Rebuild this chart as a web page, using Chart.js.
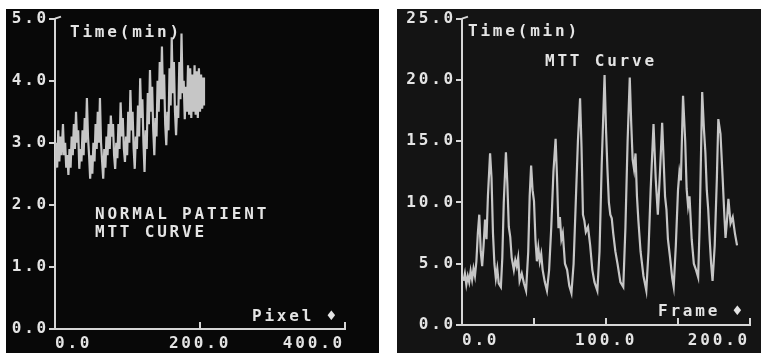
<!DOCTYPE html>
<html>
<head>
<meta charset="utf-8">
<script src="https://cdn.jsdelivr.net/npm/chart.js@4.4.1/dist/chart.umd.min.js"></script>
<style>
  html, body { margin: 0; padding: 0; background: #ffffff; width: 761px; height: 353px; overflow: hidden; }
  .panel { position: absolute; top: 9px; height: 344px; }
  #p1 { left: 6px; width: 373px; background: #080808; }
  #p2 { left: 397px; width: 364px; background: #141414; }
  canvas { display: block; }
</style>
</head>
<body>
<div class="panel" id="p1"><canvas id="c1" width="373" height="344"></canvas></div>
<div class="panel" id="p2"><canvas id="c2" width="364" height="344"></canvas></div>
<script>
// ---------- Left chart: NORMAL PATIENT MTT CURVE ----------
const leftPixel = [0,1.5,3,4.5,6,7.5,9,11,12.5,14,
  15.5,17,18.5,20,21.5,23,24.5,26,27.5,29,
  30.5,32,33.5,35,36.5,38,39.5,41,42.5,44,
  45.5,47,48.5,50,51.5,53,54.5,56,57.5,59,
  60.5,62,63.5,65,66.5,68,69.5,71,72.5,74,
  75.5,77,78.5,80,81.5,83,84.5,86,87.5,89,
  90.5,92,93.5,95,96.5,98,99.5,101,102.5,104,
  105.5,107,108.5,110,111.5,113,114.5,116,117.5,119,
  120.5,122,123.5,125,126.5,128,129.5,131,132.5,134,
  135.5,137,138.5,140,141.5,143,144.5,146,147.5,149,
  150.5,152,153.5,155,156.5,158,159.5,161,162.5,164,
  165.5,167,168.5,170,171.5,173,174.5,176,177.5,179,
  180.5,182,183.5,185,186.5,188,189.5,191,192.5,194,
  195.5,197,198.5,200,201.5,203,204.5,205.5];
const leftTime = [2.55,3.0,2.6,3.2,2.7,3.1,2.8,3.3,2.8,3.0,
  2.6,2.8,2.48,2.9,2.6,3.1,2.8,3.3,2.9,3.5,
  3.0,3.2,2.58,2.9,2.7,3.2,2.8,3.4,3.0,3.72,
  3.1,2.8,2.42,2.8,2.5,3.0,2.7,3.3,2.9,3.5,
  3.0,3.72,3.0,2.7,2.42,2.9,2.6,3.1,2.8,3.3,
  2.9,3.44,3.1,3.3,2.8,2.58,3.0,2.75,3.3,2.9,
  3.65,3.1,3.4,2.9,2.69,3.1,2.8,3.5,3.0,3.85,
  3.2,3.5,2.9,2.58,3.1,2.9,3.6,3.1,4.04,3.4,
  3.7,3.0,2.53,3.2,2.9,3.8,3.3,4.17,3.5,3.9,
  3.2,2.8,3.4,3.1,4.0,3.5,4.3,3.7,4.55,3.7,
  4.1,3.3,2.96,3.5,3.2,4.2,3.6,4.7,3.8,4.3,
  3.5,3.12,3.6,3.4,4.3,3.7,4.76,3.8,4.0,3.38,
  3.9,3.5,4.25,3.45,4.2,3.4,4.1,3.5,4.25,3.45,
  4.15,3.4,4.2,3.5,4.1,3.55,4.05,3.6];
const leftXTicks = [0, 200, 400];
const leftYTicks = [0, 1, 2, 3, 4, 5];

// ---------- Right chart: MTT Curve ----------
const rightFrame = [1,2,3,4,5,6,7,8,9,10,11,12,13,14,15,16,17,18,19.5,20.5,21.5,22.5,23.5,24.5,25.5,27,28,29,30.5,31.5,32.5,33.5,34.5,36,37,38,39,40,41.5,43,44.5,46,47,48,49,50,51,52,53,54,55,56,57.5,59,60.5,62,63.5,65,66,67,68,69,70,71.5,73,74.5,76,77.5,79,80.5,82,83,84,85,86,87.5,89,90.5,92,94,95.5,97,99,100,101,102,103,104,105,106.5,108,110,112,113.5,115,116.5,117.5,118.5,119.5,120.5,121.5,122.5,124,126,128,129.5,131,133,134.5,136,137.5,139,140,141,142,143,144.5,146,147,148.5,150,151,152,153.5,155,156,157,158,159.5,161,162.5,164,165,166.8,168,169,170,171,172,173,174,175.5,177,178,179.5,181,182,183,184,185,186.5,188,189.5,191];
const rightTime  = [3.6,4.2,3.3,4.0,3.5,4.4,3.7,4.6,4.0,5.2,7.5,9.0,6.0,4.8,6.5,8.6,7.0,10.5,14.0,12.0,7.5,5.0,3.8,4.6,3.4,3.1,5.5,10.0,14.1,11.5,8.0,7.2,5.5,4.5,5.3,4.8,5.5,3.6,4.2,3.4,2.8,6.0,10.5,13.0,11.0,10.1,7.0,5.2,6.3,5.2,5.8,4.5,3.5,2.8,4.5,8.0,12.5,15.2,12.0,7.9,8.8,7.0,7.5,5.0,4.5,3.2,2.6,5.0,10.0,15.0,18.5,14.5,9.0,8.5,7.6,8.0,6.5,4.5,3.5,2.8,6.0,13.0,20.4,16.0,12.7,10.0,9.0,8.7,7.5,6.0,5.0,3.5,3.1,8.0,15.0,20.2,16.5,13.5,12.7,14.0,10.5,8.5,6.0,4.0,2.8,6.0,11.0,16.4,12.0,9.0,12.5,16.5,13.5,10.5,9.4,7.0,5.5,3.8,3.1,6.5,11.0,12.5,11.8,18.7,15.0,11.1,9.7,10.5,7.0,5.0,4.5,3.9,8.0,19.0,16.0,14.1,11.0,9.4,7.0,5.0,3.6,6.5,12.0,16.8,15.6,12.0,9.4,7.1,8.5,10.3,8.3,8.8,7.5,6.5];
const rightXTicks = [0, 100, 200];
const rightMinorTicks = [0, 50, 100, 150, 200];
const rightYTicks = [0, 5, 10, 15, 20, 25];

const TEXT = '#e4e4e4';
const LINE = '#c6c6c6';
const AXIS = '#d6d6d6';
const FONT_FAMILY = "'DejaVu Sans Mono', 'Liberation Mono', monospace";
const FONT_SIZE = 16;
const SPACING = '2.8px';

function setSpacing(chart) { chart.ctx.letterSpacing = SPACING; }

function makeChart(canvasId, opts) {
  const pts = opts.xs.map((x, i) => ({ x: x, y: opts.ys[i] }));
  const plugin = {
    id: 'decor_' + canvasId,
    beforeUpdate: setSpacing,
    beforeLayout: setSpacing,
    beforeDraw: setSpacing,
    afterDraw(chart) {
      const ctx = chart.ctx;
      const xs = chart.scales.x, ys = chart.scales.y;
      ctx.save();
      ctx.letterSpacing = SPACING;
      ctx.strokeStyle = AXIS;
      ctx.lineWidth = 2;
      const yb = ys.getPixelForValue(ys.min);
      opts.upTicks.forEach(v => {
        const px = xs.getPixelForValue(v);
        ctx.beginPath();
        ctx.moveTo(px, yb);
        ctx.lineTo(px, yb - 7);
        ctx.stroke();
      });
      const yt = ys.getPixelForValue(ys.max);
      const x0 = xs.getPixelForValue(xs.min);
      ctx.beginPath();
      ctx.moveTo(x0, yt);
      ctx.lineTo(x0 + 6, yt - 2);
      ctx.stroke();
      ctx.fillStyle = TEXT;
      ctx.font = 'bold ' + FONT_SIZE + 'px ' + FONT_FAMILY;
      ctx.textBaseline = 'middle';
      ctx.textAlign = 'left';
      opts.texts.forEach(t => ctx.fillText(t[0], t[1], t[2]));
      ctx.restore();
    }
  };
  return new Chart(document.getElementById(canvasId), {
    type: 'line',
    data: {
      datasets: [{
        data: pts,
        borderColor: LINE,
        borderWidth: 2.2,
        pointRadius: 0,
        tension: 0,
        fill: false
      }]
    },
    options: {
      responsive: false,
      animation: false,
      events: [],
      layout: { padding: opts.padding },
      plugins: { legend: { display: false }, tooltip: { enabled: false } },
      scales: {
        x: {
          type: 'linear',
          min: opts.xMin, max: opts.xMax,
          afterBuildTicks(s) { s.ticks = opts.xTicks.map(v => ({ value: v })); },
          afterFit(s) { s.height = opts.xHeight; },
          grid: { display: true, drawOnChartArea: false, drawTicks: false, color: AXIS },
          border: { display: true, color: AXIS, width: 2 },
          ticks: {
            color: TEXT, align: 'inner', padding: opts.xPad, maxRotation: 0, autoSkip: false,
            font: { family: FONT_FAMILY, size: FONT_SIZE, weight: 'bold' },
            callback: v => Number(v).toFixed(1)
          }
        },
        y: {
          type: 'linear',
          min: opts.yMin, max: opts.yMax,
          afterBuildTicks(s) { s.ticks = opts.yTicks.map(v => ({ value: v })); },
          afterFit(s) { s.width = opts.yWidth; },
          grid: { display: true, drawOnChartArea: false, drawTicks: true, tickLength: 6, color: AXIS, lineWidth: 2 },
          border: { display: true, color: AXIS, width: 2 },
          ticks: {
            color: TEXT, padding: 0, autoSkip: false,
            font: { family: FONT_FAMILY, size: FONT_SIZE, weight: 'bold' },
            callback: v => Number(v).toFixed(1)
          }
        }
      }
    },
    plugins: [plugin]
  });
}

makeChart('c1', {
  xs: leftPixel, ys: leftTime,
  xMin: 0, xMax: 400, yMin: 0, yMax: 5,
  xTicks: leftXTicks, yTicks: leftYTicks,
  upTicks: [200, 400],
  padding: { top: 6, right: 34, left: 0, bottom: 0 },
  yWidth: 49, xHeight: 24, xPad: 5,
  texts: [
    ['Time(min)', 64, 24],
    ['NORMAL PATIENT', 89, 206],
    ['MTT CURVE', 89, 224],
    ['Pixel \u2666', 246, 308]
  ]
});

makeChart('c2', {
  xs: rightFrame, ys: rightTime,
  xMin: 0, xMax: 200, yMin: 0, yMax: 25,
  xTicks: rightXTicks, yTicks: rightYTicks,
  upTicks: rightMinorTicks,
  padding: { top: 6, right: 11, left: 0, bottom: 0 },
  yWidth: 65, xHeight: 28, xPad: 6,
  texts: [
    ['Time(min)', 71, 23],
    ['MTT Curve', 148, 53],
    ['Frame \u2666', 261, 303]
  ]
});
</script>
</body>
</html>
